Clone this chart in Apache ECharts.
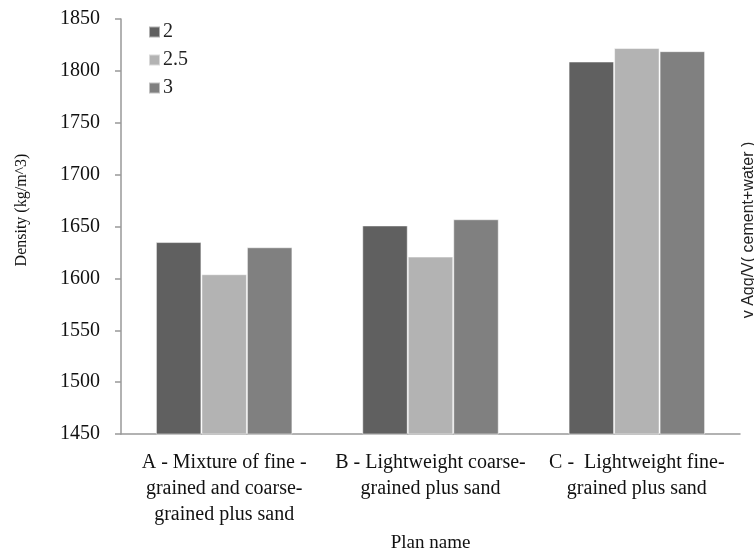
<!DOCTYPE html>
<html>
<head>
<meta charset="utf-8">
<script src="https://cdn.jsdelivr.net/npm/echarts@6/dist/echarts.min.js"></script>
<style>html,body{margin:0;padding:0;background:#fff;}#c{width:754px;height:558px;}</style>
</head>
<body>
<div id="c"></div>
<script>
const categories = [
  "A - Mixture of fine -\ngrained and coarse-\ngrained plus sand",
  "B - Lightweight coarse-\ngrained plus sand",
  "C -  Lightweight fine-\ngrained plus sand"
];
const seriesNames = ["2", "2.5", "3"];
const values2 = [1635, 1651, 1809];
const values25 = [1604, 1621, 1822];
const values3 = [1630, 1657, 1819];
const colors = ["#606060", "#b3b3b3", "#808080"];

const serif = "'Liberation Serif', 'Times New Roman', serif";
const chart = echarts.init(document.getElementById('c'));
const data = [values2, values25, values3];
chart.setOption({
  animation: false,
  backgroundColor: '#fff',
  grid: { left: 121, right: 14, top: 19, bottom: 112 },
  legend: {
    orient: 'vertical', left: 143, top: 17,
    icon: 'rect', itemWidth: 11, itemHeight: 11, itemGap: 8,
    textStyle: { fontFamily: serif, fontSize: 20, color: '#222', padding: [0, 0, 0, -2] },
    data: seriesNames
  },
  xAxis: {
    type: 'category', data: categories,
    name: 'Plan name', nameLocation: 'middle', nameGap: 100,
    nameTextStyle: { fontFamily: serif, fontSize: 19, color: '#111' },
    axisLine: { lineStyle: { color: '#999', width: 1.5 } },
    axisTick: { show: false },
    axisLabel: { interval: 0, margin: 16, fontFamily: serif, fontSize: 20, lineHeight: 26, color: '#111' }
  },
  yAxis: {
    type: 'value', min: 1450, max: 1850, interval: 50,
    splitLine: { show: false },
    axisLine: { show: true, lineStyle: { color: '#999', width: 1.5 } },
    axisTick: { show: true, length: 6, lineStyle: { color: '#999', width: 1.5 } },
    axisLabel: { margin: 21, fontFamily: serif, fontSize: 20, color: '#111', formatter: v => String(v) }
  },
  graphic: [
    { type: 'text', x: 22, y: 210, rotation: Math.PI / 2,
      style: { text: 'Density (kg/m^3)', fontFamily: serif, fontSize: 16, fill: '#111', align: 'center', verticalAlign: 'middle' } },
    { type: 'text', x: 749, y: 230, rotation: Math.PI / 2,
      style: { text: 'v Agg/V( cement+water )', fontFamily: "'Liberation Sans', Arial, sans-serif", fontSize: 16, fill: '#222', align: 'center', verticalAlign: 'middle' } }
  ],
  series: seriesNames.map((n, i) => ({
    name: n, type: 'bar', data: data[i],
    barWidth: 45.5, barGap: '0%',
    itemStyle: { color: colors[i], borderColor: 'rgba(255,255,255,0.5)', borderWidth: 1 }
  }))
});
</script>
</body>
</html>
